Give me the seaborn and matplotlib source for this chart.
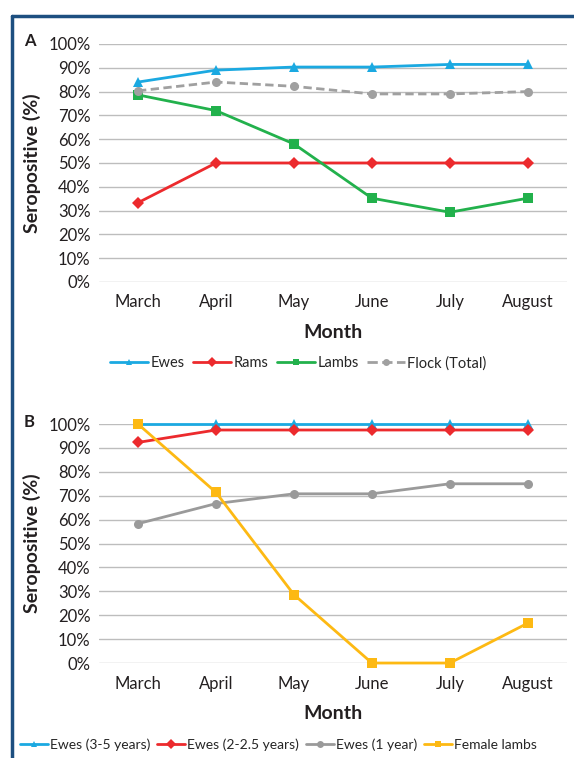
import numpy as np
import pandas as pd
import matplotlib
matplotlib.use('Agg')
import matplotlib.pyplot as plt
from matplotlib.lines import Line2D
from matplotlib.ticker import FuncFormatter
import seaborn as sns

months = ['March', 'April', 'May', 'June', 'July', 'August']

# panel A
ewes = [84.0, 89.0, 90.3, 90.3, 91.4, 91.4]
rams = [33.3, 50.0, 50.0, 50.0, 50.0, 50.0]
lambs = [78.6, 72.0, 58.0, 35.2, 29.3, 35.2]
flock = [80.3, 84.0, 82.2, 79.0, 79.0, 80.0]

# panel B
ewes_3_5 = [100, 100, 100, 100, 100, 100]
ewes_2_25 = [92.3, 97.5, 97.5, 97.5, 97.5, 97.5]
ewes_1 = [58.3, 66.7, 70.8, 70.8, 75.0, 75.0]
female_lambs = [100, 71.4, 28.6, 0, 0, 16.7]

BLUE = '#1BA9E1'
RED = '#EC2A2D'
GREEN = '#22B14C'
GRAY = '#A0A0A0'
GRAY_B = '#9A9A9A'
YELLOW = '#FDB913'
TXT = '#231F20'

sns.set_style('white')
plt.rcParams['font.family'] = ['Lato', 'DejaVu Sans']

def long_df(series):
    rows = []
    for name, vals in series.items():
        for m, v in zip(months, vals):
            rows.append({'Month': m, 'value': v, 'group': name})
    return pd.DataFrame(rows)

df_a = long_df({'Ewes': ewes, 'Rams': rams, 'Lambs': lambs, 'Flock (Total)': flock})
df_b = long_df({'Ewes (3-5 years)': ewes_3_5, 'Ewes (2-2.5 years)': ewes_2_25,
                'Ewes (1 year)': ewes_1, 'Female lambs': female_lambs})

style_a = {
    'Ewes': (BLUE, '^', (1, 0)),
    'Rams': (RED, 'D', (1, 0)),
    'Lambs': (GREEN, 's', (1, 0)),
    'Flock (Total)': (GRAY, 'o', (3, 1.6)),
}
style_b = {
    'Ewes (3-5 years)': (BLUE, '^', (1, 0)),
    'Ewes (2-2.5 years)': (RED, 'D', (1, 0)),
    'Ewes (1 year)': (GRAY_B, 'o', (1, 0)),
    'Female lambs': (YELLOW, 's', (1, 0)),
}

fig = plt.figure(figsize=(5.74, 7.58), dpi=100)
ax_a = fig.add_axes([0.1725, 0.628, 0.815, 0.314])
ax_b = fig.add_axes([0.1725, 0.1253, 0.815, 0.3153])


def draw(ax, df, styles):
    order = list(styles.keys())
    sns.lineplot(data=df, x='Month', y='value', hue='group', style='group',
                 hue_order=order, style_order=order,
                 palette={k: v[0] for k, v in styles.items()},
                 markers={k: v[1] for k, v in styles.items()},
                 dashes={k: v[2] for k, v in styles.items()},
                 markersize=6.5, markeredgewidth=0, linewidth=2,
                 legend=False, ax=ax, sort=False)
    ax.set_xlim(-0.5, 5.5)
    ax.set_ylim(0, 100)
    ax.set_yticks(np.arange(0, 101, 10))
    ax.yaxis.set_major_formatter(FuncFormatter(lambda v, p: f'{int(v)}%'))
    ax.grid(axis='y', color='#BDBDBD', linewidth=1)
    ax.set_axisbelow(True)
    for s in ax.spines.values():
        s.set_visible(False)
    ax.tick_params(axis='both', length=0, labelsize=12, colors=TXT, pad=6)
    ax.tick_params(axis='x', pad=9)
    ax.set_xlabel('Month', fontsize=14, fontweight='bold', color=TXT, labelpad=10)
    ax.set_ylabel('Seropositive (%)', fontsize=14, fontweight='bold', color=TXT, labelpad=5)
    for line in ax.lines:
        line.set_clip_on(False)


def legend_handles(styles):
    hs = []
    for name, (c, m, d) in styles.items():
        ls = '--' if d != (1, 0) else '-'
        hs.append(Line2D([0], [0], color=c, marker=m, markersize=5, markeredgewidth=0,
                         linewidth=2, linestyle=ls, label=name))
    return hs


draw(ax_a, df_a, style_a)
draw(ax_b, df_b, style_b)

fig.legend(handles=legend_handles(style_a), loc='center', bbox_to_anchor=(0.52, 0.521),
           ncol=4, frameon=False, fontsize=10.5, handlelength=2.6, handletextpad=0.15,
           columnspacing=0.6)
fig.legend(handles=legend_handles(style_b), loc='center left', bbox_to_anchor=(0.035, 0.018),
           ncol=4, frameon=False, fontsize=10, handlelength=2.0, handletextpad=0.15,
           columnspacing=0.5, borderaxespad=0, borderpad=0)

fig.text(0.042, 0.946, 'A', fontsize=12, fontweight='bold', color=TXT, ha='left', va='center')
fig.text(0.042, 0.443, 'B', fontsize=12, fontweight='bold', color=TXT, ha='left', va='center')

# frame
fig.add_artist(Line2D([0.021, 1.0], [0.979, 0.979], color='#1D4F80', linewidth=2.5,
                      transform=fig.transFigure))
fig.add_artist(Line2D([0.021, 0.021], [0.0, 0.979], color='#1D4F80', linewidth=2.5,
                      transform=fig.transFigure))

fig.savefig('out.png', dpi=100)
